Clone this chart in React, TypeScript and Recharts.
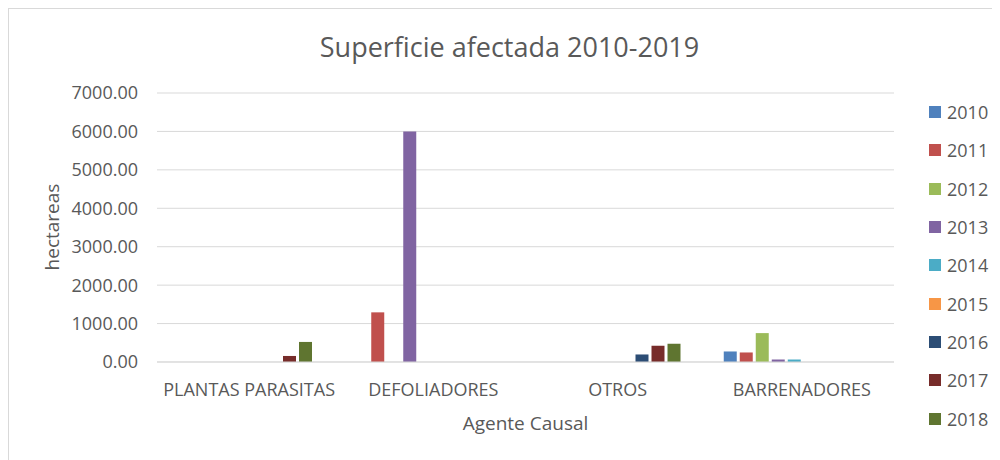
import React from 'react';
import { BarChart, Bar, XAxis, YAxis, CartesianGrid } from 'recharts';

const categories = ['PLANTAS PARASITAS', 'DEFOLIADORES', 'OTROS', 'BARRENADORES'];
const years = ['2010', '2011', '2012', '2013', '2014', '2015', '2016', '2017', '2018', '2019'];
const legendYears = ['2010', '2011', '2012', '2013', '2014', '2015', '2016', '2017', '2018'];
const colors = ['#4F81BD', '#C0504D', '#9BBB59', '#8064A2', '#4BACC6', '#F79646', '#2C4D75', '#772C2A', '#5F7530', '#4D3B62'];

const v2010 = [0, 0, 0, 274];
const v2011 = [0, 1292, 0, 248];
const v2012 = [0, 0, 0, 752];
const v2013 = [0, 6000, 0, 65];
const v2014 = [0, 0, 0, 65];
const v2015 = [0, 0, 0, 0];
const v2016 = [0, 0, 196, 0];
const v2017 = [157, 0, 423, 0];
const v2018 = [522, 0, 475, 0];
const v2019 = [0, 0, 0, 0];

const yTicks = [0, 1000, 2000, 3000, 4000, 5000, 6000, 7000];

const seriesValues = [v2010, v2011, v2012, v2013, v2014, v2015, v2016, v2017, v2018, v2019];

const data = categories.map((c, i) => {
  const row: Record<string, string | number> = { name: c };
  years.forEach((y, k) => {
    row[y] = seriesValues[k][i];
  });
  return row;
});

const FONT = '"Open Sans", sans-serif';
const TEXT = '#595959';

export default function App() {
  return (
    <div style={{ position: 'relative', width: 992, height: 452, fontFamily: FONT, overflow: 'hidden' }}>
      <div
        style={{
          position: 'absolute',
          left: 0,
          top: 0,
          width: 1100,
          height: 600,
          borderLeft: '1px solid #d9d9d9',
          borderTop: '1px solid #d9d9d9',
          boxSizing: 'border-box',
        }}
      />
      <BarChart
        width={992}
        height={452}
        data={data}
        margin={{ top: 85, right: 106, bottom: 0, left: 0 }}
        barCategoryGap={14}
        barGap={3}
      >
        <CartesianGrid vertical={false} stroke="#d9d9d9" strokeWidth={1} />
        <XAxis
          dataKey="name"
          height={98}
          tickSize={0}
          tickMargin={21}
          axisLine={{ stroke: '#d9d9d9' }}
          tickLine={false}
          tick={{ fill: TEXT, fontSize: 18, fontFamily: FONT }}
          interval={0}
        />
        <YAxis
          width={149}
          domain={[0, 7000]}
          ticks={yTicks}
          tickFormatter={(v: number) => v.toFixed(2)}
          tickSize={0}
          tickMargin={19}
          axisLine={false}
          tickLine={false}
          tick={{ fill: TEXT, fontSize: 18, fontFamily: FONT }}
        />
        {years.map((y, k) => (
          <Bar key={y} dataKey={y} fill={colors[k]} isAnimationActive={false} />
        ))}
      </BarChart>
      <div
        style={{
          position: 'absolute',
          left: 0,
          width: 1003,
          top: 20,
          textAlign: 'center',
          fontSize: 27,
          color: TEXT,
          lineHeight: '38px',
        }}
      >
        Superficie afectada 2010-2019
      </div>
      <div
        style={{
          position: 'absolute',
          left: 149,
          width: 737,
          top: 400,
          textAlign: 'center',
          fontSize: 19,
          color: TEXT,
          lineHeight: '30px',
        }}
      >
        Agente Causal
      </div>
      <div
        style={{
          position: 'absolute',
          left: 44 - 100,
          top: 219 - 15,
          width: 200,
          textAlign: 'center',
          fontSize: 19,
          color: TEXT,
          lineHeight: '30px',
          transform: 'rotate(-90deg)',
        }}
      >
        hectareas
      </div>
      <div style={{ position: 'absolute', left: 921, top: 85 }}>
        {legendYears.map((y, k) => (
          <div
            key={y}
            style={{ display: 'flex', alignItems: 'center', height: 38.3, color: TEXT, fontSize: 18 }}
          >
            <span style={{ display: 'inline-block', width: 12, height: 12, background: colors[k], marginRight: 6 }} />
            <span>{y}</span>
          </div>
        ))}
      </div>
    </div>
  );
}
